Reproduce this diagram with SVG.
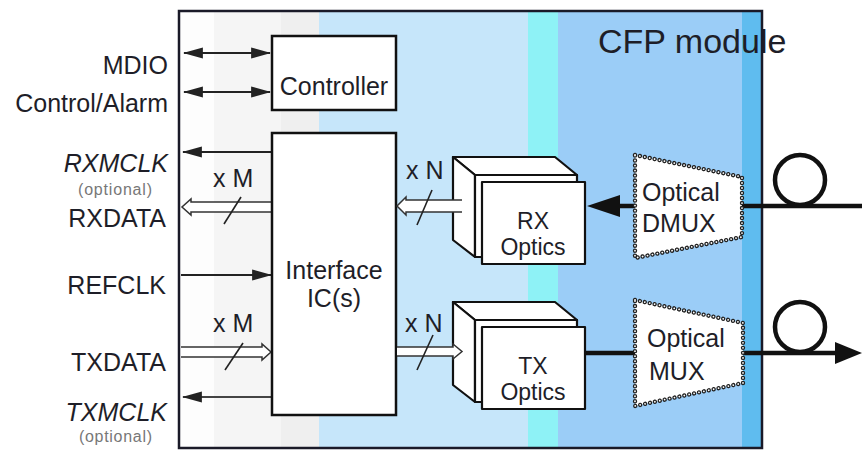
<svg xmlns="http://www.w3.org/2000/svg" width="862" height="451" viewBox="0 0 862 451">
<defs>
<style>
text{font-family:"Liberation Sans",Arial,sans-serif;fill:#1e1e28;}
.lbl{font-size:25px;}
.inb{font-size:23px;}
.opt{font-size:16px;fill:#777;}
.it{font-style:italic;}
.box{fill:#fff;stroke:#111;stroke-width:2.5;}
.sig{stroke:#222;stroke-width:2;fill:none;}
.bus{fill:#fff;stroke:#333;stroke-width:1.5;}
.slash{stroke:#222;stroke-width:1.6;}
.fiber{stroke:#111;stroke-width:4.5;fill:none;}
.opt3d{fill:#fff;stroke:#111;stroke-width:2.2;stroke-linejoin:round;}
.beadO{fill:#fff;stroke:#222;stroke-width:4.4;stroke-dasharray:0.01 5;stroke-linecap:round;}
.beadI{fill:none;stroke:#fff;stroke-width:1.8;stroke-dasharray:0.01 5;stroke-linecap:round;}
</style>
<marker id="ah" markerUnits="userSpaceOnUse" markerWidth="20" markerHeight="12" viewBox="0 0 18 10" refX="17" refY="5" orient="auto-start-reverse">
<path d="M0,0 L18,5 L0,10 z" fill="#222"/>
</marker>
</defs>
<rect width="862" height="451" fill="#fff"/>
<g id="module-bg">
<rect x="180" y="12" width="34" height="436" fill="#fdfdfd"/>
<rect x="214" y="12" width="67" height="436" fill="#f5f5f5"/>
<rect x="281" y="12" width="38" height="436" fill="#efefef"/>
<rect x="319" y="12" width="209" height="436" fill="#c6e6fa"/>
<rect x="528" y="12" width="30" height="436" fill="#8ef2f6"/>
<rect x="558" y="12" width="184" height="436" fill="#9bcdf7"/>
<rect x="742" y="12" width="20" height="436" fill="#5fbcef"/>
<text x="598" y="53" style="font-size:34px">CFP module</text>
<rect x="179" y="11" width="583" height="437" fill="none" stroke="#1a1a28" stroke-width="2.5"/>
</g>
<g id="connectors">
<line class="sig" x1="184" y1="53" x2="270" y2="53" marker-start="url(#ah)" marker-end="url(#ah)"/>
<line class="sig" x1="184" y1="92" x2="270" y2="92" marker-start="url(#ah)" marker-end="url(#ah)"/>
<line class="sig" x1="271" y1="152" x2="183" y2="152" marker-end="url(#ah)"/>
<line class="sig" x1="181" y1="275" x2="271" y2="275" marker-end="url(#ah)"/>
<line class="sig" x1="271" y1="397" x2="183" y2="397" marker-end="url(#ah)" style="stroke:#444"/>
<path class="bus" d="M271,202 H191 V199 L182,207 L191,215 V212 H271"/>
<path class="bus" d="M181,347 H262 V344 L271,352 L262,360 V357 H181"/>
<line class="slash" x1="224" y1="224" x2="241" y2="197"/>
<line class="slash" x1="225" y1="370" x2="243" y2="343"/>
<line class="fiber" x1="615" y1="206" x2="862" y2="206"/>
<polygon points="587,206 620,195 620,217" fill="#111"/>
<circle class="fiber" cx="800" cy="180" r="25"/>
<line class="fiber" x1="585" y1="353" x2="838" y2="353"/>
<polygon points="862,353 835,342 835,364" fill="#111"/>
<circle class="fiber" cx="800" cy="327" r="25"/>
</g>
<g id="labels">
<text class="lbl" x="168" y="74" text-anchor="end">MDIO</text>
<text class="lbl" x="168" y="112" text-anchor="end">Control/Alarm</text>
<text class="lbl it" x="168" y="172" text-anchor="end">RXMCLK</text>
<text class="opt" x="78" y="195" textLength="74">(optional)</text>
<text class="lbl" x="166" y="227" text-anchor="end">RXDATA</text>
<text class="lbl" x="166" y="294" text-anchor="end">REFCLK</text>
<text class="lbl" x="166" y="371" text-anchor="end">TXDATA</text>
<text class="lbl it" x="167" y="421" text-anchor="end">TXMCLK</text>
<text class="opt" x="79" y="442" textLength="73">(optional)</text>
<text class="lbl" x="213" y="187">x M</text>
<text class="lbl" x="213" y="332">x M</text>
<text class="lbl" x="406" y="179">x N</text>
<text class="lbl" x="405" y="332">x N</text>
</g>
<g id="controller">
<rect class="box" x="272" y="36" width="124" height="74"/>
<text class="lbl" x="334" y="95" text-anchor="middle">Controller</text>
</g>
<g id="interface-ic">
<rect class="box" x="272" y="133" width="124" height="282"/>
<text class="lbl" x="334" y="279" text-anchor="middle">Interface</text>
<text class="lbl" x="334" y="307" text-anchor="middle">IC(s)</text>
</g>
<g id="rx-optics">
<polygon class="opt3d" points="453,157 555,157 577,175 475,175"/>
<polygon class="opt3d" points="453,157 475,175 475,257 453,240"/>
<rect class="opt3d" x="475" y="175" width="102" height="82"/>
<rect class="opt3d" x="482" y="182" width="103" height="82"/>
<text class="inb" x="533" y="229" text-anchor="middle">RX</text>
<text class="inb" x="533" y="255" text-anchor="middle">Optics</text>
</g>
<g id="tx-optics">
<polygon class="opt3d" points="453,302 555,302 577,320 475,320"/>
<polygon class="opt3d" points="453,302 475,320 475,402 453,385"/>
<rect class="opt3d" x="475" y="320" width="102" height="82"/>
<rect class="opt3d" x="482" y="327" width="103" height="82"/>
<text class="inb" x="533" y="374" text-anchor="middle">TX</text>
<text class="inb" x="533" y="400" text-anchor="middle">Optics</text>
</g>
<g id="internal-buses">
<path class="bus" d="M462,200 H406 V197 L397,206 L406,215 V212 H462"/>
<path class="bus" d="M397,347 H453 V344 L462,351.5 L453,359 V356 H397"/>
<line class="slash" x1="417" y1="225" x2="432" y2="190"/>
<line class="slash" x1="417" y1="370" x2="433" y2="335"/>
</g>
<g id="optical-dmux">
<polygon class="beadO" points="635,155 742,177 742,237 635,258"/>
<polygon class="beadI" points="635,155 742,177 742,237 635,258"/>
<text class="lbl" x="642" y="201">Optical</text>
<text class="lbl" x="642" y="232">DMUX</text>
</g>
<g id="optical-mux">
<polygon class="beadO" points="635,300 743,323 743,383 635,406"/>
<polygon class="beadI" points="635,300 743,323 743,383 635,406"/>
<text class="lbl" x="647" y="347">Optical</text>
<text class="lbl" x="649" y="380">MUX</text>
</g>
</svg>
